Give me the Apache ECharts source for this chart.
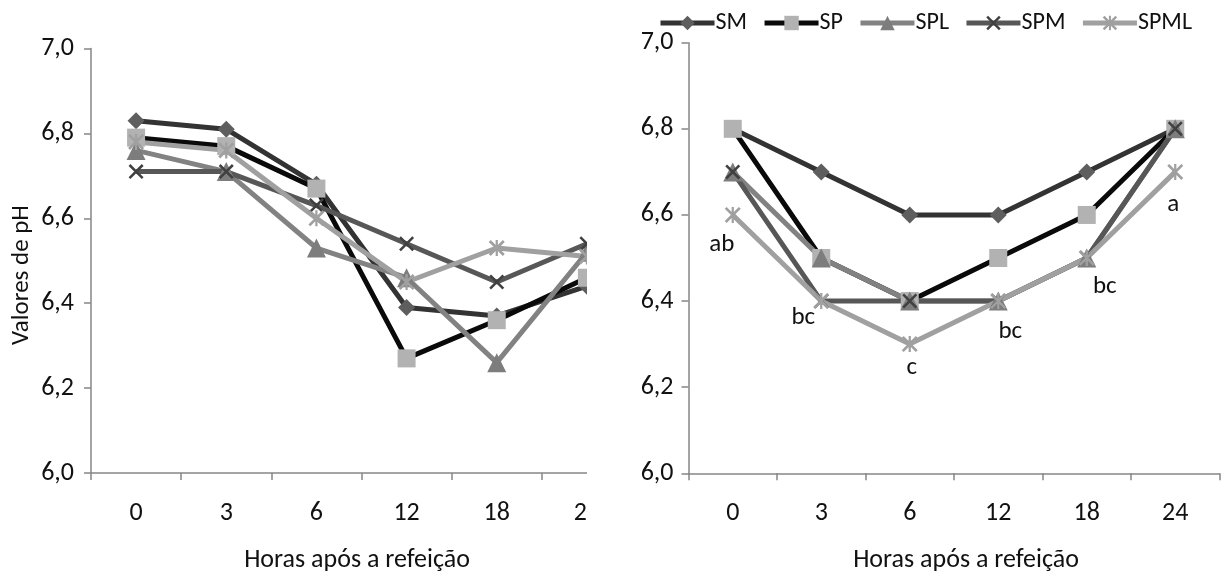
<!DOCTYPE html>
<html>
<head>
<meta charset="utf-8">
<script src="https://cdn.jsdelivr.net/npm/echarts@6/dist/echarts.min.js"></script>
<style>
html,body{margin:0;padding:0;background:#fff;}
#chart{width:1224px;height:574px;}
</style>
</head>
<body>
<div id="chart"></div>
<script>
const hours = ['0', '3', '6', '12', '18', '24'];
const seriesNames = ['SM', 'SP', 'SPL', 'SPM', 'SPML'];
const yTicks = [6.0, 6.2, 6.4, 6.6, 6.8, 7.0];

// Left chart values
const leftSM   = [6.83, 6.81, 6.68, 6.39, 6.37, 6.44];
const leftSP   = [6.79, 6.77, 6.67, 6.27, 6.36, 6.46];
const leftSPL  = [6.76, 6.71, 6.53, 6.46, 6.26, 6.52];
const leftSPM  = [6.71, 6.71, 6.63, 6.54, 6.45, 6.54];
const leftSPML = [6.78, 6.76, 6.60, 6.45, 6.53, 6.51];

// Right chart values
const rightSM   = [6.8, 6.7, 6.6, 6.6, 6.7, 6.8];
const rightSP   = [6.8, 6.5, 6.4, 6.5, 6.6, 6.8];
const rightSPL  = [6.7, 6.5, 6.4, 6.4, 6.5, 6.8];
const rightSPM  = [6.7, 6.4, 6.4, 6.4, 6.5, 6.8];
const rightSPML = [6.6, 6.4, 6.3, 6.4, 6.5, 6.7];
const letters   = ['ab', 'bc', 'c', 'bc', 'bc', 'a'];

const xAxisTitle = 'Horas após a refeição';
const yAxisTitle = 'Valores de pH';

// styles (not data)
const FONT = 'Carlito, Calibri, Lato, "Open Sans", sans-serif';
const letterOffsets = [[-11, 30], [-18, 17], [2, 24], [12, 31], [18, 29], [-2, 33]];
const X_PATH = 'path://M0,1.2L1.2,0L10,8.8L8.8,10Z M8.8,0L10,1.2L1.2,10L0,8.8Z';
const STAR_PATH = 'path://M0,1.2L1.2,0L10,8.8L8.8,10Z M8.8,0L10,1.2L1.2,10L0,8.8Z M4.3,0L5.7,0L5.7,10L4.3,10Z';
const styles = {
  SM:   {line: '#333333', mark: '#5e5e5e', symbol: 'diamond', size: 17},
  SP:   {line: '#0a0a0a', mark: '#b2b2b2', symbol: 'rect', size: 18},
  SPL:  {line: '#828282', mark: '#7d7d7d', symbol: 'triangle', size: 19},
  SPM:  {line: '#575757', mark: '#404040', symbol: X_PATH, size: 15},
  SPML: {line: '#a0a0a0', mark: '#a0a0a0', symbol: STAR_PATH, size: 16}
};

const leftData = [leftSM, leftSP, leftSPL, leftSPM, leftSPML];
const rightData = [rightSM, rightSP, rightSPL, rightSPM, rightSPML];

function fmt(v) { return v.toFixed(1).replace('.', ','); }

function mkSeries(name, data, idx) {
  const s = styles[name];
  return {
    name: name,
    type: 'line',
    xAxisIndex: idx,
    yAxisIndex: idx,
    data: data,
    symbol: s.symbol,
    symbolSize: s.size,
    showAllSymbol: true,
    lineStyle: {color: s.line, width: 5},
    itemStyle: {color: s.mark, borderWidth: 0},
    emphasis: {disabled: true},
    animation: false
  };
}

const series = [];
seriesNames.forEach((n, i) => series.push(mkSeries(n, leftData[i], 0)));
seriesNames.forEach((n, i) => {
  const s = mkSeries(n, rightData[i], 1);
  if (n === 'SPML') {
    s.data = rightData[i].map((v, k) => ({
      value: v,
      label: {
        show: true,
        position: 'inside',
        offset: letterOffsets[k],
        formatter: letters[k],
        color: '#111',
        fontSize: 25,
        fontFamily: FONT
      }
    }));
  }
  series.push(s);
});

function mkX(idx) {
  return {
    type: 'category',
    gridIndex: idx,
    data: hours,
    boundaryGap: true,
    axisLine: {show: true, lineStyle: {color: '#868686', width: 1.5}},
    axisTick: {show: true, length: 7, lineStyle: {color: '#868686', width: 1.5}},
    axisLabel: {color: '#111', fontSize: 26, fontFamily: FONT, margin: 27, interval: 0},
    splitLine: {show: false}
  };
}
function mkY(idx) {
  return {
    type: 'value',
    gridIndex: idx,
    min: 6.0,
    max: 7.0,
    interval: 0.2,
    axisLine: {show: true, lineStyle: {color: '#868686', width: 1.5}},
    axisTick: {show: true, length: 7, lineStyle: {color: '#868686', width: 1.5}},
    axisLabel: {color: '#111', fontSize: 26, fontFamily: FONT, margin: idx === 0 ? 17 : 15,
      formatter: v => fmt(v)},
    splitLine: {show: false}
  };
}

const chart = echarts.init(document.getElementById('chart'), null, {renderer: 'canvas'});
chart.setOption({
  backgroundColor: '#ffffff',
  animation: false,
  textStyle: {fontFamily: FONT},
  grid: [
    {left: 91, top: 48.5, width: 541, height: 424.5, containLabel: false},
    {left: 688.5, top: 42.7, width: 531, height: 430.6, containLabel: false}
  ],
  xAxis: [mkX(0), mkX(1)],
  yAxis: [mkY(0), mkY(1)],
  legend: {
    data: seriesNames,
    left: 653,
    top: 6,
    itemWidth: 54,
    itemHeight: 18,
    itemGap: 15,
    lineStyle: {width: 5},
    textStyle: {color: '#111', fontSize: 24, fontFamily: FONT, padding: [0, 0, 0, -4]},
    selectedMode: false
  },
  graphic: [
    {type: 'rect', z: 100, shape: {x: 587, y: 0, width: 47, height: 574}, style: {fill: '#ffffff'}},
    {type: 'text', z: 101, x: 22, y: 275, rotation: Math.PI / 2,
      style: {text: yAxisTitle, fontSize: 25, fontFamily: FONT, fill: '#111', textAlign: 'center', textVerticalAlign: 'middle'}},
    {type: 'text', z: 101, x: 357, y: 560,
      style: {text: xAxisTitle, fontSize: 26, fontFamily: FONT, fill: '#111', textAlign: 'center', textVerticalAlign: 'middle'}},
    {type: 'text', z: 101, x: 966, y: 560,
      style: {text: xAxisTitle, fontSize: 26, fontFamily: FONT, fill: '#111', textAlign: 'center', textVerticalAlign: 'middle'}}
  ],
  series: series
});
</script>
</body>
</html>
